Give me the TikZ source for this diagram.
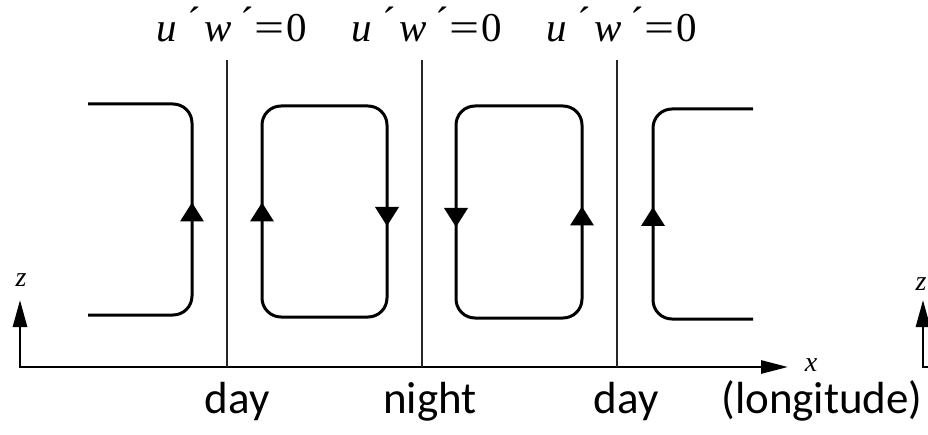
\documentclass[tikz,border=0pt]{standalone}
\usepackage{fontspec}
\setmainfont{Carlito}
\newfontfamily\tnr{Liberation Serif}
\usetikzlibrary{arrows.meta}
\tikzset{
  stream/.style={line width=3pt, rounded corners=19pt},
  divider/.style={line width=2.2pt, black!85},
  axis/.style={line width=2.8pt},
  toplabel/.style={anchor=base, inner sep=0pt, font=\tnr\fontsize{41}{41}\selectfont},
  botlabel/.style={anchor=base, inner sep=0pt, font=\fontsize{45}{45}\selectfont},
  axlabel/.style={inner sep=0pt, font=\tnr\itshape\fontsize{28}{28}\selectfont},
  uptri/.pic={\fill (0,-10) -- (12,9) -- (-12,9) -- cycle;},
  downtri/.pic={\fill (0,10) -- (12,-9) -- (-12,-9) -- cycle;}
}
\newcommand\uwlabel{\textit{u}\hspace{10pt}\raisebox{6pt}{´}\hspace{4pt}\textit{w}\hspace{8pt}\raisebox{6pt}{´}\hspace{1pt}\scalebox{1.3}[1]{=}\hspace{2pt}0}
\begin{document}
\begin{tikzpicture}[x=1pt,y=-1pt]
\useasboundingbox (0,0) rectangle (928,435);
% axes
\coordinate (o) at (20,367);
\coordinate (zt) at (20,300);
\coordinate (xt) at (788,367);
\draw[axis, {Triangle[length=27pt,width=14pt]}-{Triangle[length=27pt,width=13pt]}] (zt) -- (o) -- (xt);
\node[axlabel] (zl) at (21,280) {z};
\node[axlabel] (xl) at (811,365) {x};
% second z axis (cut off)
\coordinate (o2) at (923,367);
\coordinate (zt2) at (923,300);
\coordinate (xr2) at (940,367);
\draw[axis, {Triangle[length=27pt,width=14pt]}-] (zt2) -- (o2) -- (xr2);
\node[axlabel] (zl2) at (921,284) {z};
% dividers
\foreach \n/\x in {a/227,b/422,c/617}{
  \coordinate (\n top) at (\x,60);
  \coordinate (\n bot) at (\x,367);
  \draw[divider] (\n top) -- (\n bot);
}
% top labels
\node[toplabel] (la) at (232,42) {\uwlabel};
\node[toplabel] (lb) at (427,42) {\uwlabel};
\node[toplabel] (lc) at (622,42) {\uwlabel};
% streamlines
\draw[stream] (88,104) -- (192,104) -- (192,315) -- (88,315);
\draw[stream] (262,106) rectangle (387,317);
\draw[stream] (456,106) rectangle (582,318);
\draw[stream] (753,109) -- (653,109) -- (653,319) -- (753,319);
% arrowheads
\pic at (192,212.5) {uptri};
\pic at (262,212.5) {uptri};
\pic at (387,216) {downtri};
\pic at (456,217) {downtri};
\pic at (582,216.5) {uptri};
\pic at (653,217) {uptri};
% bottom labels
\node[botlabel] (d1) at (237,413) {day};
\node[botlabel] (n1) at (430,413) {night};
\node[botlabel] (d2) at (626,413) {day};
\node[botlabel] (lon) at (822,413) {(longitude)};
\end{tikzpicture}
\end{document}
